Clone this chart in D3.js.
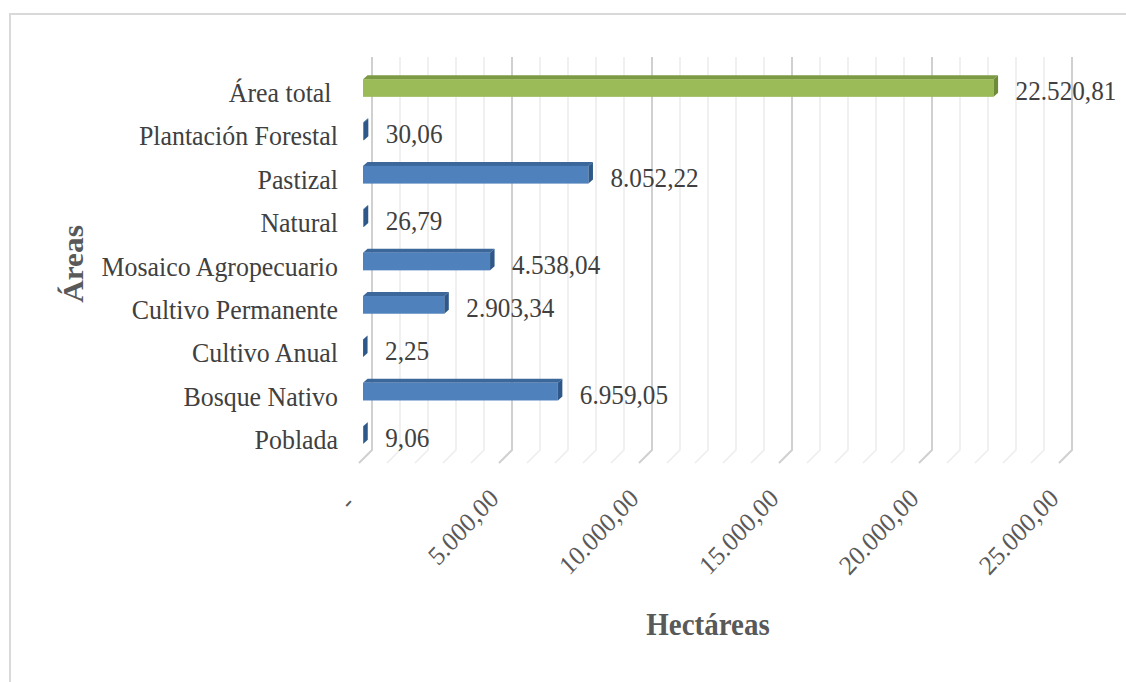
<!DOCTYPE html>
<html><head><meta charset="utf-8">
<script src="https://cdn.jsdelivr.net/npm/d3@7"></script>
<style>
html,body{margin:0;padding:0;background:#fff;}
svg{display:block;font-family:"Liberation Serif","Times New Roman",serif;}
text{white-space:pre;}
</style></head>
<body><svg id="c" width="1126" height="682"></svg>
<script>
// Data (top to bottom)
const categories = ["Área total ","Plantación Forestal","Pastizal","Natural","Mosaico Agropecuario","Cultivo Permanente","Cultivo Anual","Bosque Nativo","Poblada"];
const values = [22520.81, 30.06, 8052.22, 26.79, 4538.04, 2903.34, 2.25, 6959.05, 9.06];
const isTotal = [true, false, false, false, false, false, false, false, false];
const tickValues = [0, 5000, 10000, 15000, 20000, 25000];
const minorTicks = d3.range(0, 25001, 1000);
const xTitle = "Hectáreas";
const yTitle = "Áreas";

const loc = d3.formatLocale({decimal: ",", thousands: ".", grouping: [3], currency: ["", ""]});
const fmt = loc.format(",.2f");
const tickFmt = v => v === 0 ? "-\u00A0" : fmt(v);

const svg = d3.select("#c");
const SY = 1.08; // vertical text stretch of the reference

// border
svg.append("rect").attr("x", 10).attr("y", 14).attr("width", 1130).attr("height", 690)
  .attr("fill", "none").attr("stroke", "#d9d9d9").attr("stroke-width", 2);

const x = d3.scaleLinear().domain([0, 25000]).range([363, 1063]);
const y = d3.scalePoint().domain(categories).range([88, 435]);

const wallOff = 9, wallTop = 57, wallBot = 450, floorD = 13;

// gridlines (back wall + floor)
const grid = svg.append("g");
minorTicks.forEach(v => {
  const xb = x(v) + wallOff;
  const major = v % 5000 === 0;
  grid.append("path")
    .attr("d", `M${xb},${wallTop}L${xb},${wallBot}L${xb - floorD},${wallBot + floorD}`)
    .attr("fill", "none")
    .attr("stroke", major ? "#d0d0d0" : "#ededed")
    .attr("stroke-width", major ? 2 : 1.6);
});

// bars (3D)
const bh = 17.7, dx = 4.5, dy = 4;
const bars = svg.append("g");
categories.forEach((c, i) => {
  const v = values[i];
  const x0 = x(0), x1 = x(v);
  const top = y(c) - bh / 2, bot = y(c) + bh / 2;
  const col = isTotal[i]
    ? {front: "#9bbb59", top: "#7c9a44", side: "#6e8b3a"}
    : {front: "#4f81bd", top: "#3c679b", side: "#2d5889"};
  bars.append("path")
    .attr("d", `M${x0},${top}L${x0 + dx},${top - dy}L${x1 + dx},${top - dy}L${x1},${top}Z`)
    .attr("fill", col.top);
  bars.append("rect").attr("x", x0).attr("y", top).attr("width", Math.max(0, x1 - x0)).attr("height", bh)
    .attr("fill", col.front);
  bars.append("path")
    .attr("d", `M${x1},${top}L${x1 + dx},${top - dy}L${x1 + dx},${bot - dy}L${x1},${bot}Z`)
    .attr("fill", col.side);
  bars.append("text")
    .attr("transform", `translate(${x1 + 22},${y(c) + 12}) scale(1,${SY})`)
    .attr("font-size", 25.2).attr("fill", "#404040")
    .text(fmt(v));
});

// category labels
const cat = svg.append("g");
categories.forEach(c => {
  cat.append("text")
    .attr("transform", `translate(338,${y(c) + 14}) scale(1,${SY})`)
    .attr("text-anchor", "end").attr("font-size", 25.9).attr("fill", "#404040")
    .text(c);
});

// x tick labels
const tk = svg.append("g");
tickValues.forEach(v => {
  tk.append("text")
    .attr("transform", `translate(${x(v) - 3},${500}) scale(1,${SY}) rotate(-45)`)
    .attr("text-anchor", "end").attr("font-size", 25).attr("fill", "#595959")
    .text(tickFmt(v));
});

// axis titles
svg.append("text")
  .attr("transform", `translate(708,635) scale(1,${SY})`)
  .attr("text-anchor", "middle").attr("font-size", 29).attr("font-weight", "bold").attr("fill", "#595959")
  .text(xTitle);
svg.append("text")
  .attr("transform", `translate(83,264) rotate(-90) scale(${SY},1)`)
  .attr("text-anchor", "middle").attr("font-size", 29).attr("font-weight", "bold").attr("fill", "#595959")
  .text(yTitle);
</script></body></html>
